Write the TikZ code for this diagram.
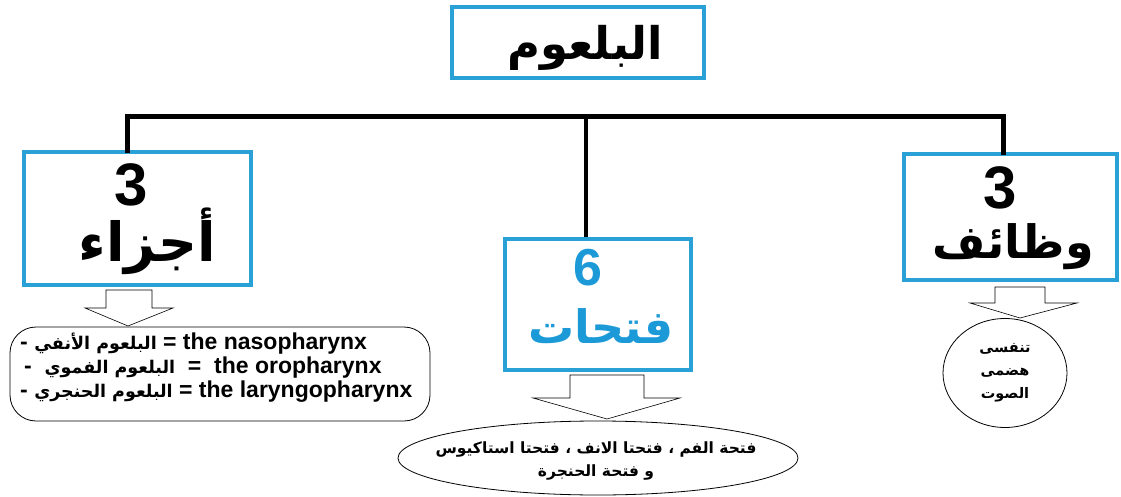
\documentclass[tikz,border=0pt]{standalone}
\usepackage{fontspec}
\setmainfont{Liberation Sans}
\newfontfamily\arabicfont[Script=Arabic]{DejaVu Sans}
\TeXXeTstate=1
\usetikzlibrary{shapes.geometric}
\definecolor{boxblue}{RGB}{41,160,214}
\definecolor{titleblue}{RGB}{28,154,216}

\tikzset{
  bluebox/.style={draw=boxblue, line width=3.5pt, rectangle, inner sep=0pt},
  bignum/.style={font=\fontsize{60}{60}\selectfont\bfseries, inner sep=0pt, anchor=base},
  bigword/.style={font=\arabicfont\fontsize{#1}{50}\selectfont\bfseries, inner sep=0pt, anchor=base},
  bigword/.default=48,
  partline/.style={font=\fontsize{23}{24}\selectfont\bfseries, inner sep=0pt, anchor=base west},
  smallar/.style={font=\arabicfont\fontsize{15.5}{23}\selectfont\bfseries, align=center},
  blockarrow/.style={draw=black, line width=0.6pt, fill=white, line join=miter},
  bar/.style={line width=5pt, line cap=rect}
}
\newcommand{\arpart}[1]{{\arabicfont\fontsize{17.5}{24}\selectfont\beginR #1\endR}}

\begin{document}
\begin{tikzpicture}[x=1pt,y=-1pt]
\useasboundingbox (0,0) rectangle (1121,497);

% boxes
\node[bluebox, minimum width=252pt, minimum height=71pt] (pharynx) at (578,42.5) {};
\node[bluebox, minimum width=227pt, minimum height=133pt] (parts) at (137.5,218.5) {};
\node[bluebox, minimum width=186pt, minimum height=131pt] (holes) at (598,304.5) {};
\node[bluebox, minimum width=213pt, minimum height=126pt] (jobs) at (1010.5,217) {};

% box texts
\node[bigword=45] (pharynxtxt) at (585,60) {\beginR البلعوم\endR};
\node[bignum] (partsnum) at (131,205) {3};
\node[bigword=54] (partstxt) at (147,261) {\beginR أجزاء\endR};
\node[bignum, text=titleblue, font=\fontsize{52}{52}\selectfont\bfseries] (holesnum) at (588,285) {6};
\node[bigword=46, text=titleblue] (holestxt) at (601,343) {\beginR فتحات\endR};
\node[bignum] (jobsnum) at (1000,208) {3};
\node[bigword=46] (jobstxt) at (1013,258) {\beginR وظائف\endR};

% connectors
\coordinate (barL) at (127,117);
\coordinate (barM) at (586,117);
\coordinate (barR) at (1003,117);
\draw[bar] (barL |- parts.north) -- (barL) -- (barR) -- (barR |- jobs.north);
\draw[line width=3.5pt] (barM) -- (barM |- holes.north);

% block arrows
\draw[blockarrow] (106,290) -- (106,308) -- (85,308) -- (128,326) -- (173,308) -- (152,308) -- (152,290) -- cycle;
\draw[blockarrow] (570,375) -- (570,398) -- (533,398) -- (607,419) -- (680,398) -- (644,398) -- (644,375) -- cycle;
\draw[blockarrow] (995,287) -- (995,303) -- (970,303) -- (1020,318) -- (1077,303) -- (1045,303) -- (1045,287) -- cycle;

% the three parts
\draw[line width=0.8pt, rounded corners=26pt] (10,327) rectangle (430,421);
\node[partline] (naso) at (20,349) {- \arpart{البلعوم الأنفي} = the nasopharynx};
\node[partline] (oro) at (24,373) {-\ \ \arpart{البلعوم الفموي}\ \ =\ \ the oropharynx};
\node[partline] (laryngo) at (20,397) {- \arpart{البلعوم الحنجري} = the laryngopharynx};

% the six openings
\node[smallar, inner sep=0pt] (openings) at (596,461)
  {\beginR فتحة الفم ، فتحتا الانف ، فتحتا استاكيوس\endR\\ \beginR و فتحة الحنجرة\endR};
\draw[line width=0.8pt] (598,458) ellipse [x radius=200, y radius=37];

% the three functions
\node[ellipse, draw, line width=0.8pt, minimum width=124pt, minimum height=109pt, smallar, font=\arabicfont\fontsize{14.5}{23}\selectfont\bfseries] (functions) at (1005,373)
  {\beginR تنفسى\endR\\ \beginR هضمى\endR\\ \beginR الصوت\endR};
\end{tikzpicture}
\end{document}
